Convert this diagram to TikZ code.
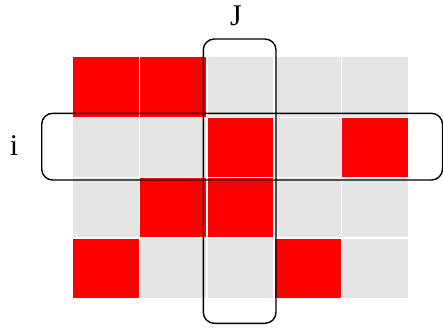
\documentclass[tikz,border=0pt]{standalone}
\usepackage{fontspec}
\setmainfont{Liberation Serif}
\definecolor{cellgray}{HTML}{E5E5E5}
\definecolor{cellred}{HTML}{FF0000}
\begin{document}
\begin{tikzpicture}[x=1pt,y=-1pt,
  cell/.style={draw=white,line width=1.2pt,fill=cellgray,minimum width=67.1pt,minimum height=60.4pt,inner sep=0pt,outer sep=0pt},
  hot/.style={cell,fill=cellred},
  band/.style={draw=black,line width=1.4pt,rounded corners=11pt},
  lbl/.style={font=\fontsize{30}{30}\selectfont,inner sep=0pt}]
\useasboundingbox (0,0) rectangle (443,332);
\foreach \r/\c/\s in {1/1/hot,1/2/hot,1/3/cell,1/4/cell,1/5/cell,
                       2/1/cell,2/2/cell,2/3/hot,2/4/cell,2/5/hot,
                       3/1/cell,3/2/hot,3/3/hot,3/4/cell,3/5/cell,
                       4/1/hot,4/2/cell,4/3/cell,4/4/hot,4/5/cell}
  \node[\s] (c\r\c) at ({72.7+67.1*(\c-0.5)},{56.7+60.4*(\r-0.5)}) {};
\draw[band] (203.3,39) rectangle (276,323.3);
\draw[band] (41.7,113.3) rectangle (442.5,180);
\node[lbl] (lj) at (236,16) {J};
\node[lbl] (li) at (14,146) {i};
\end{tikzpicture}
\end{document}
